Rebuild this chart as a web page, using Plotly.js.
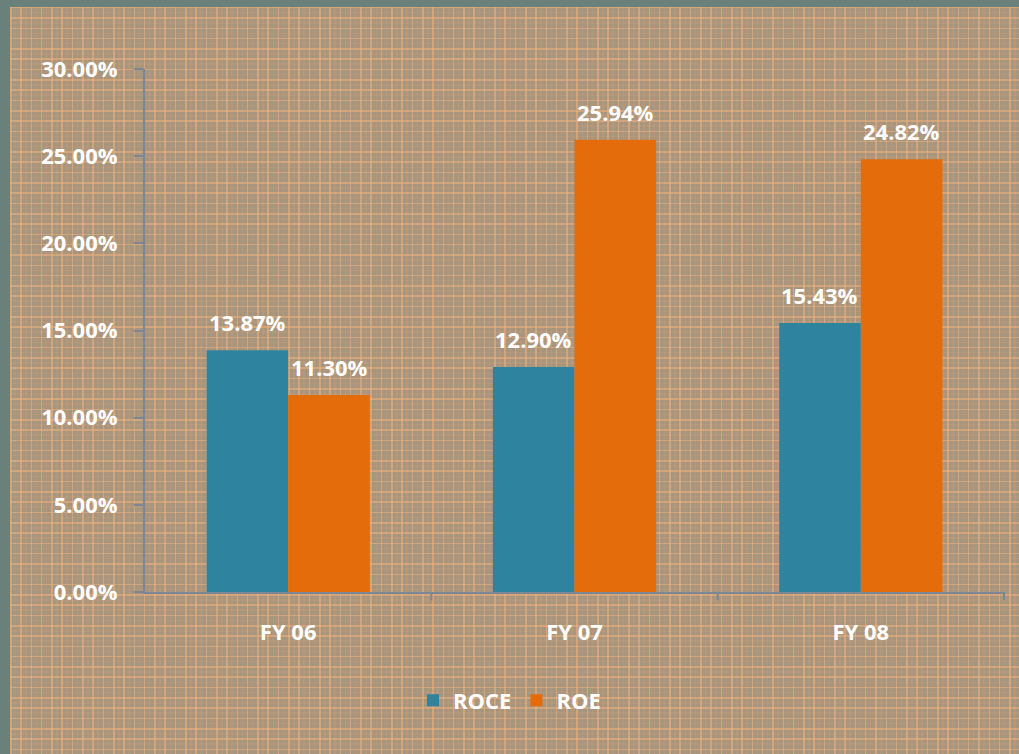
<!DOCTYPE html>
<html>
<head>
<meta charset="utf-8">
<script src="https://cdn.plot.ly/plotly-3.0.1.min.js"></script>
<style>
  html, body { margin: 0; padding: 0; width: 1019px; height: 754px; overflow: hidden; background: #6a807b; }
  #panel {
    position: absolute; left: 10px; top: 7px; width: 1009px; height: 747px;
    background-color: #a8957d;
    background-image:
      repeating-linear-gradient(to right, rgba(240,178,125,0.55) 0px, rgba(240,178,125,0.55) 1.5px, transparent 1.5px, transparent 10.3px),
      repeating-linear-gradient(to bottom, rgba(240,178,125,0.55) 0px, rgba(240,178,125,0.55) 1.5px, transparent 1.5px, transparent 10.3px),
      repeating-linear-gradient(to right, transparent 0px, transparent 5px, rgba(220,165,120,0.18) 5px, rgba(220,165,120,0.18) 6.5px, transparent 6.5px, transparent 10.3px),
      repeating-linear-gradient(to bottom, transparent 0px, transparent 5px, rgba(220,165,120,0.18) 5px, rgba(220,165,120,0.18) 6.5px, transparent 6.5px, transparent 10.3px);
  }
  #chart { position: absolute; left: 0; top: 0; width: 1019px; height: 754px; }
</style>
</head>
<body>
<div id="panel"></div>
<div id="chart"></div>
<script>
const categories = ["FY 06", "FY 07", "FY 08"];
const roce = [0.1387, 0.1290, 0.1543];
const roe = [0.1130, 0.2594, 0.2482];
const yTicks = [0, 0.05, 0.10, 0.15, 0.20, 0.25, 0.30];

const font = { family: "Open Sans, sans-serif", color: "#ffffff", size: 22, weight: "bold" };

const margin = { l: 145, r: 14, t: 69, b: 162 };
const W = 1019, H = 754;
const bargap = 0.43;
const plotW = W - margin.l - margin.r;
const barOffset = (plotW / categories.length) * (1 - bargap) / 4;

const traces = [
  { type: "bar", name: "ROCE", x: categories, y: roce, marker: { color: "#2e849e" }, hoverinfo: "skip" },
  { type: "bar", name: "ROE", x: categories, y: roe, marker: { color: "#e46c0a" }, hoverinfo: "skip" }
];

const fmt = v => (v * 100).toFixed(2) + "%";
const annotations = [];
categories.forEach((c, i) => {
  annotations.push({ x: c, y: roce[i], xref: "x", yref: "y", text: fmt(roce[i]), showarrow: false,
    xshift: -barOffset, yshift: 11, yanchor: "bottom", font: font });
  annotations.push({ x: c, y: roe[i], xref: "x", yref: "y", text: fmt(roe[i]), showarrow: false,
    xshift: barOffset, yshift: 11, yanchor: "bottom", font: font });
});

const layout = {
  width: W, height: H,
  paper_bgcolor: "rgba(0,0,0,0)", plot_bgcolor: "rgba(0,0,0,0)",
  margin: margin,
  barmode: "group", bargap: bargap, bargroupgap: 0,
  font: font,
  showlegend: true,
  legend: { orientation: "h", xref: "container", yref: "container", x: 0.5, xanchor: "center", y: 0.071, yanchor: "middle",
            font: font, itemwidth: 30, traceorder: "normal" },
  xaxis: { showline: true, linecolor: "#7d8694", linewidth: 2, ticks: "", showgrid: false,
           tickfont: font, ticklabelstandoff: 20 },
  yaxis: { range: [0, 0.30], tickvals: yTicks, tickformat: ".2%", showgrid: false, zeroline: false,
           showline: true, linecolor: "#7d8694", linewidth: 2, ticks: "outside", ticklen: 9, tickwidth: 2,
           tickcolor: "#7d8694", tickfont: font, ticklabelstandoff: 12 },
  annotations: annotations,
  shapes: [
    { type: "line", xref: "x", yref: "paper", x0: 0.5, x1: 0.5, y0: 0, y1: -0.016, line: { color: "#7d8694", width: 2 } },
    { type: "line", xref: "x", yref: "paper", x0: 1.5, x1: 1.5, y0: 0, y1: -0.016, line: { color: "#7d8694", width: 2 } },
    { type: "line", xref: "x", yref: "paper", x0: 2.5, x1: 2.5, y0: 0, y1: -0.016, line: { color: "#7d8694", width: 2 } },
    { type: "line", xref: "paper", yref: "paper", x0: -0.011, x1: 0, y0: 0, y1: 0, line: { color: "#7d8694", width: 2 } }
  ]
};

Plotly.newPlot("chart", traces, layout, { displayModeBar: false, staticPlot: true });
</script>
</body>
</html>
